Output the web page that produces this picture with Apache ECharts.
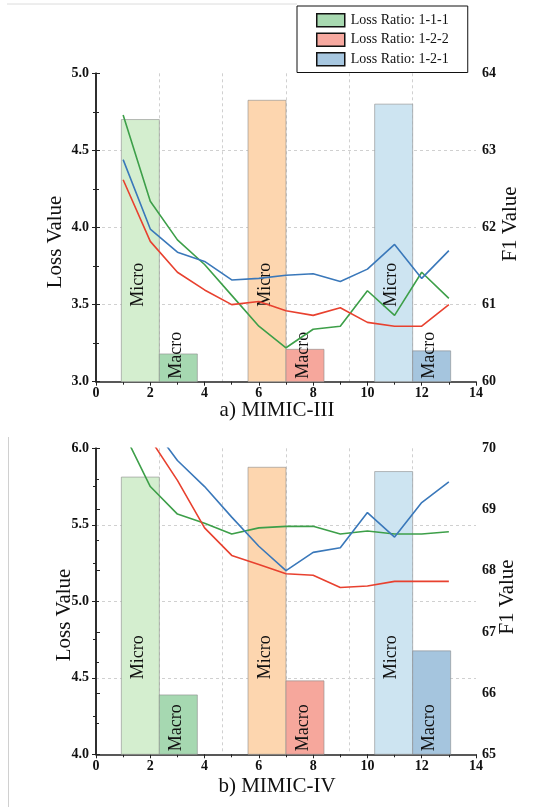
<!DOCTYPE html>
<html>
<head>
<meta charset="utf-8">
<script src="https://cdn.jsdelivr.net/npm/echarts@6/dist/echarts.min.js"></script>
<style>html,body{margin:0;padding:0;background:#fff;}#c{width:559px;height:807px;}</style>
</head>
<body>
<div id="c"></div>
<script>
// ---- data ----
const steps = [1, 2, 3, 4, 5, 6, 7, 8, 9, 10, 11, 12, 13];
const ratioNames = ['Loss Ratio: 1-1-1', 'Loss Ratio: 1-2-2', 'Loss Ratio: 1-2-1'];
// MIMIC-III loss curves
const lossIII_111 = [4.73, 4.17, 3.92, 3.76, 3.56, 3.36, 3.22, 3.34, 3.36, 3.59, 3.43, 3.71, 3.54];
const lossIII_122 = [4.31, 3.91, 3.71, 3.595, 3.50, 3.52, 3.46, 3.43, 3.48, 3.385, 3.36, 3.36, 3.50];
const lossIII_121 = [4.44, 3.99, 3.84, 3.78, 3.66, 3.67, 3.69, 3.70, 3.65, 3.73, 3.89, 3.67, 3.85];
// MIMIC-III F1 bars (order: 1-1-1, 1-2-2, 1-2-1)
const microIII = [63.40, 63.65, 63.60];
const macroIII = [60.36, 60.42, 60.40];
// MIMIC-IV loss curves
const lossIV_111 = [6.11, 5.75, 5.57, 5.51, 5.44, 5.48, 5.49, 5.49, 5.44, 5.46, 5.44, 5.44, 5.455];
const lossIV_122 = [6.35, 6.06, 5.79, 5.48, 5.30, 5.24, 5.18, 5.17, 5.09, 5.10, 5.13, 5.13, 5.13];
const lossIV_121 = [6.45, 6.16, 5.92, 5.75, 5.55, 5.36, 5.20, 5.32, 5.35, 5.58, 5.42, 5.645, 5.78];
// MIMIC-IV F1 bars
const microIV = [69.53, 69.69, 69.62];
const macroIV = [65.97, 66.20, 66.69];
const barLabels = ['Micro', 'Macro'];

// ---- styles ----
const SERIF = '"Liberation Serif", "DejaVu Serif", serif';
const lineColors = ['#3d9f49', '#e8412f', '#3a78ba'];
const legendColors = ['#a8d9b1', '#f7a9a0', '#a7c7e0'];
const microColors = ['#d4eecf', '#fdd6af', '#cde4f1'];
const macroColors = ['#a6d8b1', '#f6a79c', '#a5c5de'];
const groupCenters = [14 / 6, 14 / 2, 14 * 5 / 6];
const BW = 1.4;

const chart = echarts.init(document.getElementById('c'), null, {renderer: 'canvas'});

function pairs(vals) { return steps.map((s, i) => [s, vals[i]]); }

function barRender(params, api) {
  const g = api.value(0);       // group index
  const kind = api.value(1);    // 0 micro, 1 macro
  const val = api.value(2);
  const cs = params.coordSys;
  const c = groupCenters[g];
  const x0 = kind === 0 ? c - BW : c;
  const x1 = kind === 0 ? c : c + BW;
  const pTop = api.coord([x0, val]);
  const pR = api.coord([x1, val]);
  const bottom = cs.y + cs.height;
  const fill = kind === 0 ? microColors[g] : macroColors[g];
  const tx = (pTop[0] + pR[0]) / 2 - 2;
  const ty = kind === 0 ? bottom - 75 : bottom - 3;
  return {
    type: 'group',
    children: [
      {type: 'rect', shape: {x: pTop[0], y: pTop[1], width: pR[0] - pTop[0], height: bottom - pTop[1]},
       style: {fill: fill, stroke: 'rgba(140,140,140,0.6)', lineWidth: 1}},
      {type: 'text', x: tx, y: ty, rotation: Math.PI / 2,
       style: {text: barLabels[kind], fontSize: 18, fontFamily: SERIF, fill: '#111', align: 'left', verticalAlign: 'middle'}}
    ]
  };
}

function barData(micro, macro) {
  const d = [];
  micro.forEach((v, i) => d.push([i, 0, v]));
  macro.forEach((v, i) => d.push([i, 1, v]));
  return d;
}

const grids = [
  {left: 96, width: 380, top: 73.3, height: 308.4},
  {left: 96, width: 380, top: 448.3, height: 306}
];

const axisLabelStyle = {fontFamily: SERIF, fontWeight: 'bold', fontSize: 14, color: '#111'};
const axisLineStyle = {show: true, lineStyle: {color: '#222', width: 1.5}};

function xAxes(gi) {
  return [
    {type: 'value', gridIndex: gi, min: 0, max: 14, interval: 2,
     axisLine: axisLineStyle, axisTick: {show: true, length: 4, lineStyle: {color: '#222'}},
     minorTick: {show: true, splitNumber: 2, length: 3, lineStyle: {color: '#222'}},
     axisLabel: Object.assign({margin: 5}, axisLabelStyle), splitLine: {show: false}},
    {type: 'value', gridIndex: gi, min: 0, max: 14, interval: 14 / 6, show: true,
     axisLine: {show: false}, axisTick: {show: false}, axisLabel: {show: false},
     splitLine: {show: true, showMinLine: false, showMaxLine: false, lineStyle: {color: '#d0d0d0', type: [3, 3], width: 1}}}
  ];
}

function yAxes(gi, lmin, lmax, fmin, fmax) {
  return [
    {type: 'value', gridIndex: gi, position: 'left', min: lmin, max: lmax, interval: 0.5,
     axisLine: axisLineStyle, axisTick: {show: true, length: 4, lineStyle: {color: '#222'}},
     minorTick: {show: true, splitNumber: 2, length: 3, lineStyle: {color: '#222'}},
     axisLabel: Object.assign({margin: 7, formatter: v => v.toFixed(1)}, axisLabelStyle),
     splitLine: {show: true, showMinLine: false, showMaxLine: false, lineStyle: {color: '#d0d0d0', type: [3, 3], width: 1}}},
    {type: 'value', gridIndex: gi, position: 'right', min: fmin, max: fmax, interval: 1,
     axisLine: axisLineStyle, axisTick: {show: true, length: 4, lineStyle: {color: '#222'}},
     minorTick: {show: true, splitNumber: 2, length: 3, lineStyle: {color: '#222'}},
     axisLabel: Object.assign({margin: 6}, axisLabelStyle), splitLine: {show: false}}
  ];
}

const lossSets = [[lossIII_111, lossIII_122, lossIII_121], [lossIV_111, lossIV_122, lossIV_121]];
const series = [];
// legend-only entries
ratioNames.forEach((n, i) => series.push({type: 'custom', name: n, xAxisIndex: 0, yAxisIndex: 1,
  itemStyle: {color: legendColors[i]}, renderItem: () => ({type: 'group', children: []}), data: []}));
// bars
series.push({type: 'custom', name: 'barsIII', xAxisIndex: 0, yAxisIndex: 1, renderItem: barRender,
  data: barData(microIII, macroIII), z: 1, silent: true});
series.push({type: 'custom', name: 'barsIV', xAxisIndex: 2, yAxisIndex: 3, renderItem: barRender,
  data: barData(microIV, macroIV), z: 1, silent: true});
// lines
lossSets.forEach((set, gi) => {
  set.forEach((vals, i) => series.push({
    type: 'line', name: 'line' + gi + i, xAxisIndex: gi * 2, yAxisIndex: gi * 2,
    data: pairs(vals), symbol: 'none', clip: true, z: 3, silent: true,
    lineStyle: {color: lineColors[i], width: 1.6}, itemStyle: {color: lineColors[i]}
  }));
});

const option = {
  animation: false,
  backgroundColor: '#fff',
  grid: grids,
  xAxis: xAxes(0).concat(xAxes(1)),
  yAxis: yAxes(0, 3, 5, 60, 64).concat(yAxes(1, 4, 6, 65, 70)),
  legend: {
    data: ratioNames, orient: 'vertical', left: 297, top: 6,
    icon: 'rect', itemWidth: 28, itemHeight: 13, itemGap: 5,
    padding: [7, 19, 6, 19],
    borderColor: '#111', borderWidth: 1, backgroundColor: '#fff',
    itemStyle: {borderColor: '#111', borderWidth: 1.5},
    textStyle: {fontFamily: SERIF, fontSize: 14, color: '#111', padding: [0, 0, 0, 1]}
  },
  graphic: [
    {type: 'line', shape: {x1: 7, y1: 4, x2: 297, y2: 4}, style: {stroke: '#dcdcdc', lineWidth: 1}, z: -1},
    {type: 'line', shape: {x1: 8.5, y1: 437, x2: 8.5, y2: 807}, style: {stroke: '#d0d0d0', lineWidth: 1}, z: -1},
    {type: 'text', x: 55, y: 242, rotation: Math.PI / 2, style: {text: 'Loss Value', fontSize: 21, fontFamily: SERIF, fill: '#111', align: 'center', verticalAlign: 'middle'}},
    {type: 'text', x: 510, y: 224, rotation: Math.PI / 2, style: {text: 'F1 Value', fontSize: 21, fontFamily: SERIF, fill: '#111', align: 'center', verticalAlign: 'middle'}},
    {type: 'text', x: 277, y: 410, style: {text: 'a) MIMIC-III', fontSize: 21, fontFamily: SERIF, fill: '#111', align: 'center', verticalAlign: 'middle'}},
    {type: 'text', x: 64, y: 615, rotation: Math.PI / 2, style: {text: 'Loss Value', fontSize: 21, fontFamily: SERIF, fill: '#111', align: 'center', verticalAlign: 'middle'}},
    {type: 'text', x: 507, y: 597, rotation: Math.PI / 2, style: {text: 'F1 Value', fontSize: 21, fontFamily: SERIF, fill: '#111', align: 'center', verticalAlign: 'middle'}},
    {type: 'text', x: 277, y: 786, style: {text: 'b) MIMIC-IV', fontSize: 21, fontFamily: SERIF, fill: '#111', align: 'center', verticalAlign: 'middle'}}
  ],
  series: series
};
chart.setOption(option);
</script>
</body>
</html>
